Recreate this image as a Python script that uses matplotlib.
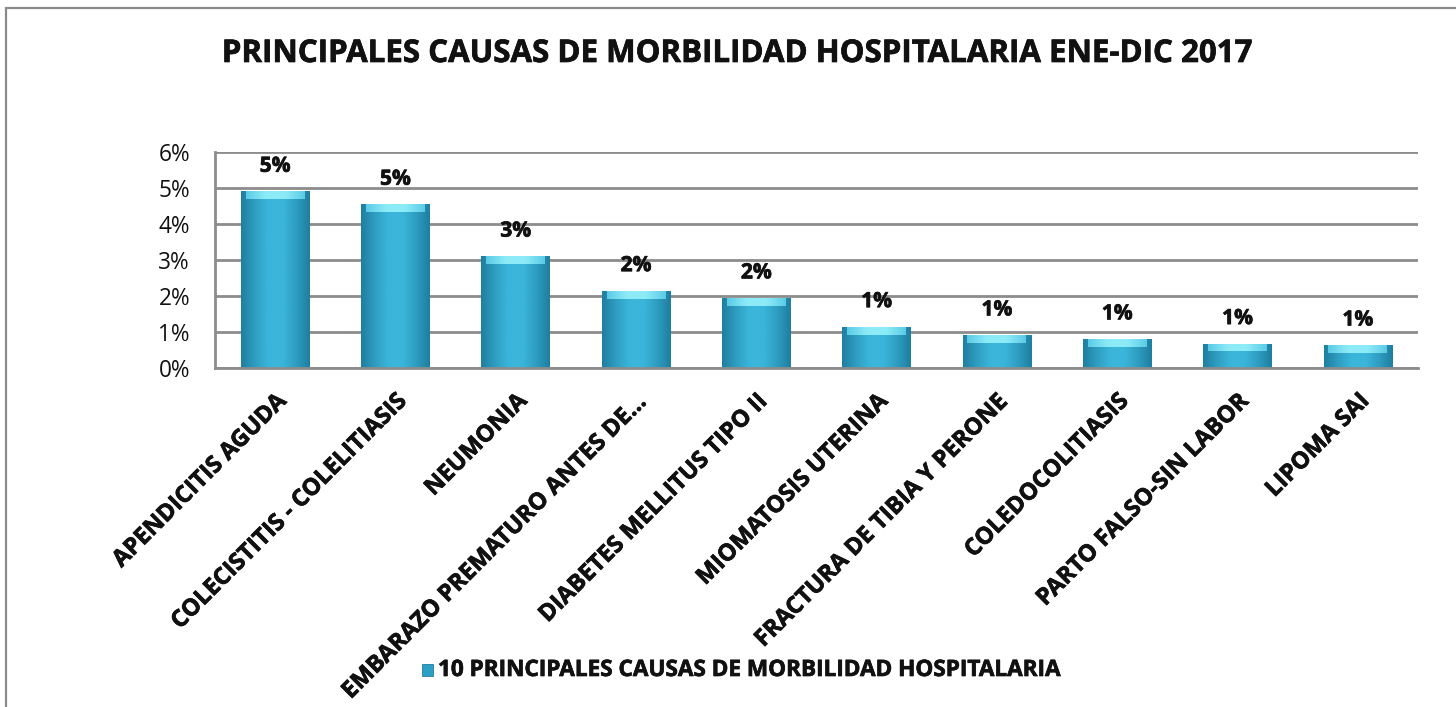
import matplotlib
matplotlib.use("Agg")
import matplotlib.pyplot as plt
import matplotlib.patheffects as pe
import numpy as np
from matplotlib.patches import Rectangle
from matplotlib.colors import LinearSegmentedColormap

categories = ["APENDICITIS AGUDA", "COLECISTITIS - COLELITIASIS", "NEUMONIA",
              "EMBARAZO PREMATURO ANTES DE...", "DIABETES MELLITUS TIPO II",
              "MIOMATOSIS UTERINA", "FRACTURA DE TIBIA Y PERONE",
              "COLEDOCOLITIASIS", "PARTO FALSO-SIN LABOR", "LIPOMA SAI"]
values = [4.91, 4.55, 3.11, 2.15, 1.95, 1.15, 0.92, 0.81, 0.68, 0.64]
value_labels = ["5%", "5%", "3%", "2%", "2%", "1%", "1%", "1%", "1%", "1%"]
yticks = [0, 1, 2, 3, 4, 5, 6]
ytick_labels = ["0%", "1%", "2%", "3%", "4%", "5%", "6%"]
title = "PRINCIPALES CAUSAS DE MORBILIDAD HOSPITALARIA ENE-DIC 2017"
series_name = "10 PRINCIPALES CAUSAS DE MORBILIDAD HOSPITALARIA"

plt.rcParams['font.family'] = ['Open Sans', 'DejaVu Sans']

W, H = 1456, 707
fig = plt.figure(figsize=(W / 100, H / 100), dpi=100)
fig.patch.set_facecolor("white")
renderer = fig.canvas.get_renderer()


def fit_size(text, target_px, weight="bold", base=14.0):
    t = fig.text(0, 0, text, fontsize=base, fontweight=weight)
    wpx = t.get_window_extent(renderer=renderer).width
    t.remove()
    return base * target_px / wpx


heavy = [pe.withStroke(linewidth=0.5, foreground="#111111")]

# outer chart frame
fig.patches.append(Rectangle((6 / W, -0.01), 1.02, 1 - 8 / H + 0.01,
                             transform=fig.transFigure, fill=False,
                             edgecolor="#8a8a8a", linewidth=1.6))

ax = fig.add_axes([215 / W, 1 - 368 / H, (1418 - 215) / W, (368 - 152) / H])
x = np.arange(len(categories))
bars = ax.bar(x, values, width=0.57, color="#34ADD2", zorder=2)

# gradient shading on bars (3D-like bevel)
cmap = LinearSegmentedColormap.from_list(
    "bev", ["#1F7FA0", "#2E9EC2", "#3BB6DA", "#3BB6DA", "#2E9EC2", "#1F7FA0"])
grad = np.linspace(0, 1, 64).reshape(1, -1)
cap_cmap = LinearSegmentedColormap.from_list("cap", ["#5CCBE6", "#8DEBF8", "#8DEBF8", "#5CCBE6"])
for b in bars:
    x0, w, h = b.get_x(), b.get_width(), b.get_height()
    im = ax.imshow(grad, cmap=cmap, extent=(x0, x0 + w, 0, h), aspect="auto",
                   zorder=2.1, interpolation="bicubic")
    im.set_clip_path(b)
    cap = 0.22
    im2 = ax.imshow(grad, cmap=cap_cmap, extent=(x0 + 0.04, x0 + w - 0.04, h - cap, h),
                    aspect="auto", zorder=2.2, interpolation="bicubic")
    im2.set_clip_path(b)
ax.set_xlim(-0.5, len(categories) - 0.5)
ax.set_ylim(0, 6)

ax.set_yticks(yticks)
ax.set_yticklabels(ytick_labels, fontsize=fit_size("6%", 32, "normal"), color="#111111")
ax.yaxis.grid(True, color="#8c8c8c", linewidth=2.0, zorder=0)
ax.set_axisbelow(True)
ax.tick_params(axis="y", length=0, pad=18)
ax.tick_params(axis="x", length=0, pad=15)
for s in ["top", "right"]:
    ax.spines[s].set_visible(False)
ax.spines["left"].set_color("#8c8c8c")
ax.spines["left"].set_linewidth(2.0)
ax.spines["bottom"].set_color("#8c8c8c")
ax.spines["bottom"].set_linewidth(2.0)

xl_size = fit_size(categories[0], 236)
ax.set_xticks(x)
ax.set_xticklabels(categories, rotation=45, ha="right", va="top",
                   rotation_mode="anchor", fontsize=xl_size, fontweight="bold",
                   color="#111111")
for lbl in ax.get_xticklabels():
    lbl.set_path_effects(heavy)

dl_size = fit_size("5%", 31)
for xi, v, lab in zip(x, values, value_labels):
    ax.annotate(lab, (xi, v), xytext=(0, 14), textcoords="offset points",
                ha="center", va="baseline", fontsize=dl_size, fontweight="bold",
                color="#111111", path_effects=heavy)

fig.text(736 / W, 1 - 54 / H, title, ha="center", va="center",
         fontsize=fit_size(title, 1036), fontweight="bold", color="#111111",
         path_effects=heavy)

# legend
fig.patches.append(Rectangle((422 / W, 1 - 676 / H), 11 / W, 12 / H,
                             transform=fig.transFigure, facecolor="#2E9FC4",
                             edgecolor="#1F7FA0", linewidth=0.6))
fig.text(438 / W, 1 - 670 / H, series_name, ha="left", va="center",
         fontsize=fit_size(series_name, 626), fontweight="bold", color="#111111",
         path_effects=heavy)

fig.savefig("out.png", dpi=100, facecolor="white")
